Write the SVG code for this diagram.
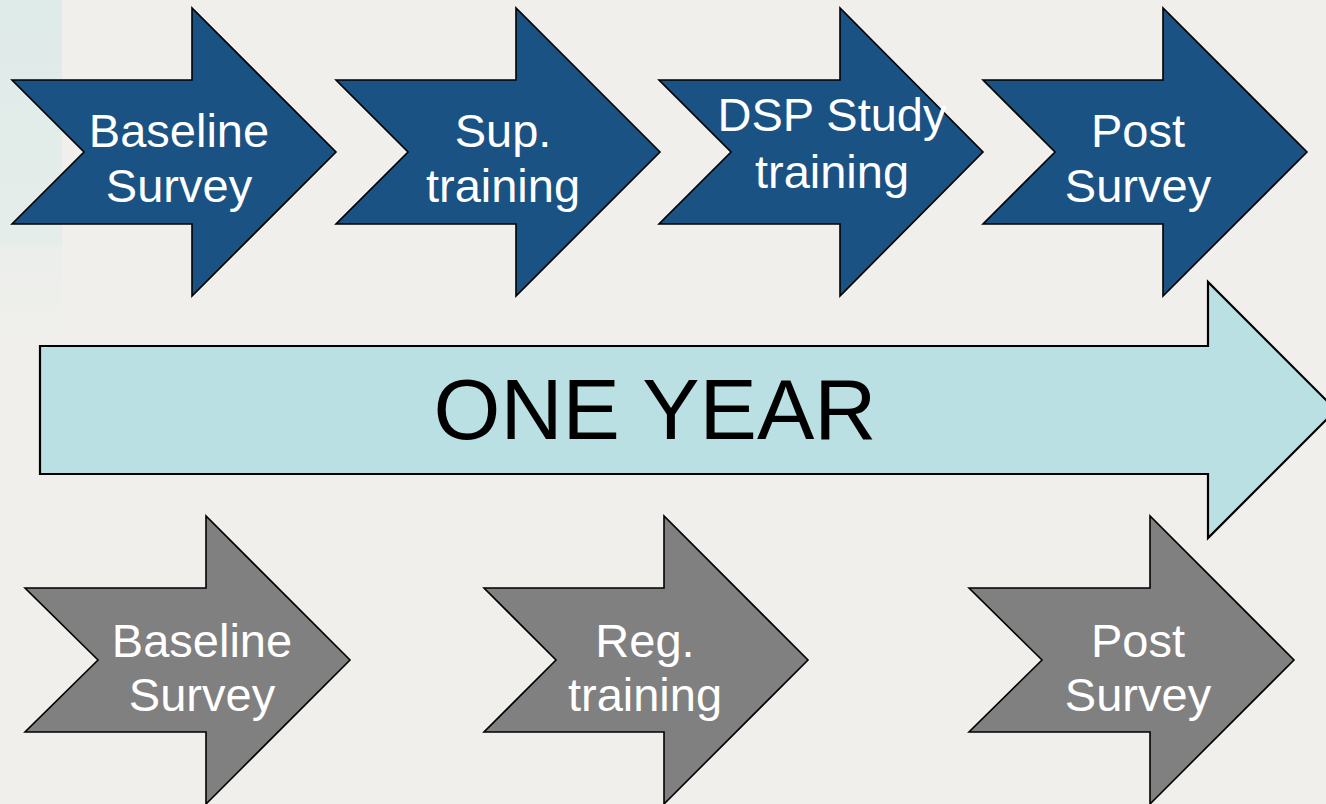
<svg xmlns="http://www.w3.org/2000/svg" width="1326" height="804" viewBox="0 0 1326 804">
<defs>
<linearGradient id="corner" x1="0" y1="0" x2="0" y2="1">
<stop offset="0" stop-color="#dfebe9"/>
<stop offset="0.72" stop-color="#e5edea"/>
<stop offset="0.74" stop-color="#eceeeb"/>
<stop offset="1" stop-color="#eff0ec"/>
</linearGradient>
<style>
.blue{fill:#1a5283;stroke:#000;stroke-width:1.6;stroke-linejoin:miter}
.gray{fill:#808080;stroke:#000;stroke-width:1.6;stroke-linejoin:miter}
.big{fill:#bbe0e3;stroke:#000;stroke-width:2.2;stroke-linejoin:miter}
.lbl{font-family:"Liberation Sans",Arial,sans-serif;font-size:47px;fill:#fff;text-anchor:middle}
.big-lbl{font-family:"Liberation Sans",Arial,sans-serif;font-size:86px;fill:#000;text-anchor:middle}
</style>
</defs>
<rect x="0" y="0" width="1326" height="804" fill="#f0efeb"/>
<rect x="0" y="0" width="62" height="337" fill="url(#corner)"/>

<g id="connectors"></g>

<g id="big-arrow">
<path class="big" d="M40,346 L1208,346 L1208,282 L1336,410 L1208,538 L1208,474 L40,474 Z"/>
<text class="big-lbl" x="655" y="439">ONE YEAR</text>
</g>

<g id="blue1">
<path class="blue" d="M12,80 L192,80 L192,8 L336,152 L192,296 L192,224 L12,224 L84,152 Z"/>
<text class="lbl" x="179" y="147">Baseline</text>
<text class="lbl" x="179" y="202">Survey</text>
</g>
<g id="blue2">
<path class="blue" d="M336,80 L516,80 L516,8 L660,152 L516,296 L516,224 L336,224 L408,152 Z"/>
<text class="lbl" x="503" y="147">Sup.</text>
<text class="lbl" x="503" y="202">training</text>
</g>
<g id="blue3">
<path class="blue" d="M659,80 L840,80 L840,8 L983,152 L840,296 L840,224 L659,224 L731,152 Z"/>
<text class="lbl" x="832" y="131">DSP Study</text>
<text class="lbl" x="832" y="188">training</text>
</g>
<g id="blue4">
<path class="blue" d="M983,80 L1163,80 L1163,8 L1307,152 L1163,296 L1163,224 L983,224 L1055,152 Z"/>
<text class="lbl" x="1138" y="147">Post</text>
<text class="lbl" x="1138" y="202">Survey</text>
</g>

<g id="gray1">
<path class="gray" d="M25,588 L206,588 L206,516 L350,660 L206,804 L206,732 L25,732 L98,660 Z"/>
<text class="lbl" x="202" y="657">Baseline</text>
<text class="lbl" x="202" y="711">Survey</text>
</g>
<g id="gray2">
<path class="gray" d="M484,588 L664,588 L664,516 L808,660 L664,804 L664,732 L484,732 L556,660 Z"/>
<text class="lbl" x="645" y="657">Reg.</text>
<text class="lbl" x="645" y="711">training</text>
</g>
<g id="gray3">
<path class="gray" d="M969,588 L1150,588 L1150,516 L1294,660 L1150,804 L1150,732 L969,732 L1042,660 Z"/>
<text class="lbl" x="1138" y="657">Post</text>
<text class="lbl" x="1138" y="711">Survey</text>
</g>
</svg>
